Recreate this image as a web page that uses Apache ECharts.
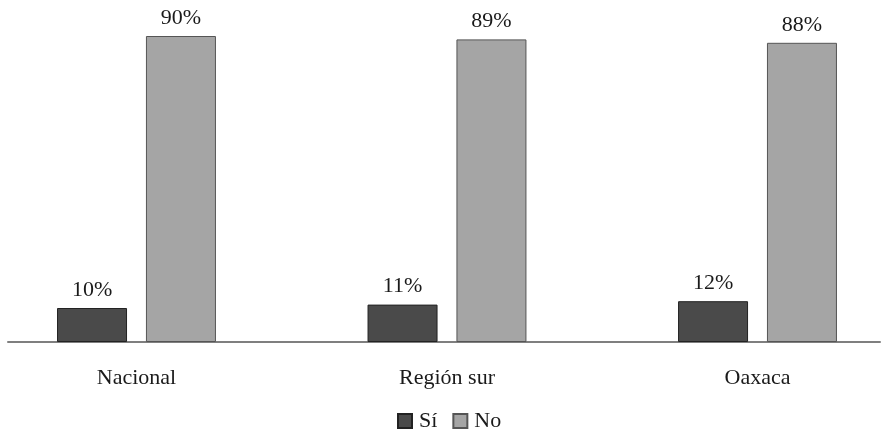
<!DOCTYPE html>
<html>
<head>
<meta charset="utf-8">
<script src="https://cdn.jsdelivr.net/npm/echarts@6/dist/echarts.min.js"></script>
<style>html,body{margin:0;padding:0;background:#fff}#c{width:881px;height:435px}</style>
</head>
<body>
<div id="c"></div>
<script>
var categories = ['Nacional', 'Región sur', 'Oaxaca'];
var seriesNames = ['Sí', 'No'];
var siValues = [10, 11, 12];
var noValues = [90, 89, 88];

var FONT = '"Liberation Serif", "Times New Roman", serif';
var catIdx = categories.map(function (c, i) { return i; });
function pairs(vals) { return vals.map(function (v, i) { return [i, v]; }); }

var chart = echarts.init(document.getElementById('c'), null, {renderer: 'canvas'});
var labelCfg = {
  show: true, position: 'top', distance: 7,
  formatter: function (p) { return p.value[1] + '%'; },
  fontFamily: FONT, fontSize: 22, color: '#1a1a1a'
};
chart.setOption({
  animation: false,
  backgroundColor: '#ffffff',
  textStyle: {fontFamily: FONT},
  legend: {
    data: seriesNames,
    top: 405, left: 392,
    icon: 'rect', itemWidth: 14, itemHeight: 14, itemGap: 15,
    textStyle: {fontFamily: FONT, fontSize: 22, color: '#1a1a1a', padding: [0, 0, 0, 2]}
  },
  grid: {left: 8, right: 1, top: 2, bottom: 93},
  xAxis: {
    type: 'value', min: -0.4138, max: 2.3945,
    splitLine: {show: false},
    axisLine: {show: true, onZero: true, lineStyle: {color: '#7f7f7f', width: 2}},
    axisTick: {show: false},
    axisLabel: {
      customValues: catIdx, margin: 25,
      formatter: function (v) { return categories[Math.round(v)]; },
      fontFamily: FONT, fontSize: 22, color: '#1a1a1a'
    }
  },
  yAxis: {type: 'value', min: 0, max: 100, show: false},
  series: [
    {
      name: seriesNames[0], type: 'bar',
      data: pairs(siValues), barWidth: 70, barGap: '27%',
      itemStyle: {color: '#4a4a4a', borderColor: '#222222', borderWidth: 1},
      label: labelCfg
    },
    {
      name: seriesNames[1], type: 'bar',
      data: pairs(noValues), barWidth: 70, barGap: '27%',
      itemStyle: {color: '#a5a5a5', borderColor: '#555555', borderWidth: 1},
      label: labelCfg
    }
  ]
});
</script>
</body>
</html>
